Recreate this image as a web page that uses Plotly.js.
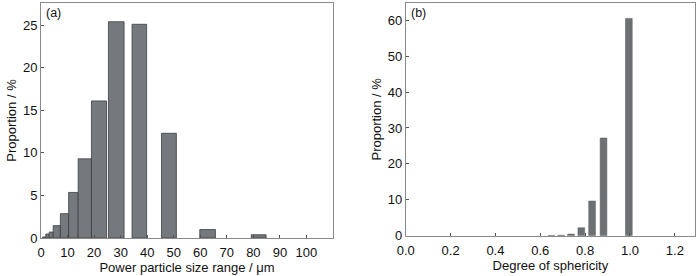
<!DOCTYPE html>
<html><head><meta charset="utf-8">
<script src="https://cdn.plot.ly/plotly-3.0.1.min.js"></script>
<style>html,body{margin:0;padding:0;background:#fff}#c{width:700px;height:276px}</style>
</head><body><div id="c"></div>
<script>
// (a) particle size distribution: bin edges (µm) and proportion (%)
const sizeLow  = [0.6, 1.8, 3.1, 4.6, 7.3, 10.4, 14.0, 19.0, 25.4, 34.3, 45.4, 59.8, 79.2];
const sizeHigh = [1.8, 3.1, 4.6, 7.3, 10.4, 14.0, 19.0, 24.7, 31.3, 39.8, 51.0, 65.7, 84.8];
const proportionA = [0.12, 0.47, 0.7, 1.45, 2.86, 5.35, 9.3, 16.1, 25.4, 25.1, 12.3, 1.0, 0.38];
// (b) sphericity distribution
const sphericity = [0.65, 0.693, 0.737, 0.783, 0.831, 0.882, 0.995];
const proportionB = [0.05, 0.12, 0.45, 2.2, 9.65, 27.2, 60.5];

const xTicksA = [0,10,20,30,40,50,60,70,80,90,100];
const xTicksB = [0,0.2,0.4,0.6,0.8,1.0,1.2];
const yTicksA = [0,5,10,15,20,25];
const yTicksB = [0,10,20,30,40,50,60];

const midA = sizeLow.map((l,i)=>(l+sizeHigh[i])/2);
const widA = sizeLow.map((l,i)=>sizeHigh[i]-l);

const fill = '#75787c', edge = '#3c3f42';
const font = {family:'Liberation Sans, Arial, sans-serif', size:13, color:'#111'};
const smallFont = Object.assign({}, font, {size:12.5});

const traces = [
  {type:'bar', x:midA, y:proportionA, width:widA, xaxis:'x', yaxis:'y',
   marker:{color:fill, line:{color:edge, width:0.8}}, hoverinfo:'x+y'},
  {type:'bar', x:sphericity, y:proportionB, width:0.03, xaxis:'x2', yaxis:'y2',
   marker:{color:'#6e7174', line:{color:'#55585b', width:0.5}}, hoverinfo:'x+y'}
];

const axBase = {showline:true, mirror:true, linecolor:'#8a8a8a', linewidth:1,
  ticks:'inside', ticklen:3, tickcolor:'#555', showgrid:false, zeroline:false,
  tickfont:font, fixedrange:true};

const layout = {
  width:700, height:276, margin:{l:41, r:5, t:3, b:38},
  paper_bgcolor:'#fff', plot_bgcolor:'#fff', showlegend:false, font:font,
  bargap:0,
  xaxis:Object.assign({}, axBase, {domain:[0,0.4465], range:[0,110], tickvals:xTicksA,
    ticklabelstandoff:2,
    title:{text:'Power particle size range / \u03bcm', font:font, standoff:3}, anchor:'y'}),
  yaxis:Object.assign({}, axBase, {domain:[0,1], range:[0,27.6], tickvals:yTicksA,
    title:{text:'Proportion / %', font:font, standoff:3}, anchor:'x'}),
  xaxis2:Object.assign({}, axBase, {domain:[0.5577,1], range:[0,1.29], tickvals:xTicksB,
    ticklabelstandoff:3,
    tickformat:'.1f', title:{text:'Degree of sphericity', font:font, standoff:3}, anchor:'y2'}),
  yaxis2:Object.assign({}, axBase, {domain:[0.0098,1], range:[0,64.8], tickvals:yTicksB,
    title:{text:'Proportion / %', font:font, standoff:3}, anchor:'x2'}),
  annotations:[
    {text:'(a)', xref:'x domain', yref:'y domain', x:0.01, y:0.995, xanchor:'left', yanchor:'top',
     showarrow:false, font:smallFont},
    {text:'(b)', xref:'x2 domain', yref:'y2 domain', x:0.01, y:0.995, xanchor:'left', yanchor:'top',
     showarrow:false, font:smallFont}
  ]
};
Plotly.newPlot('c', traces, layout, {displayModeBar:false, staticPlot:true});
</script></body></html>
